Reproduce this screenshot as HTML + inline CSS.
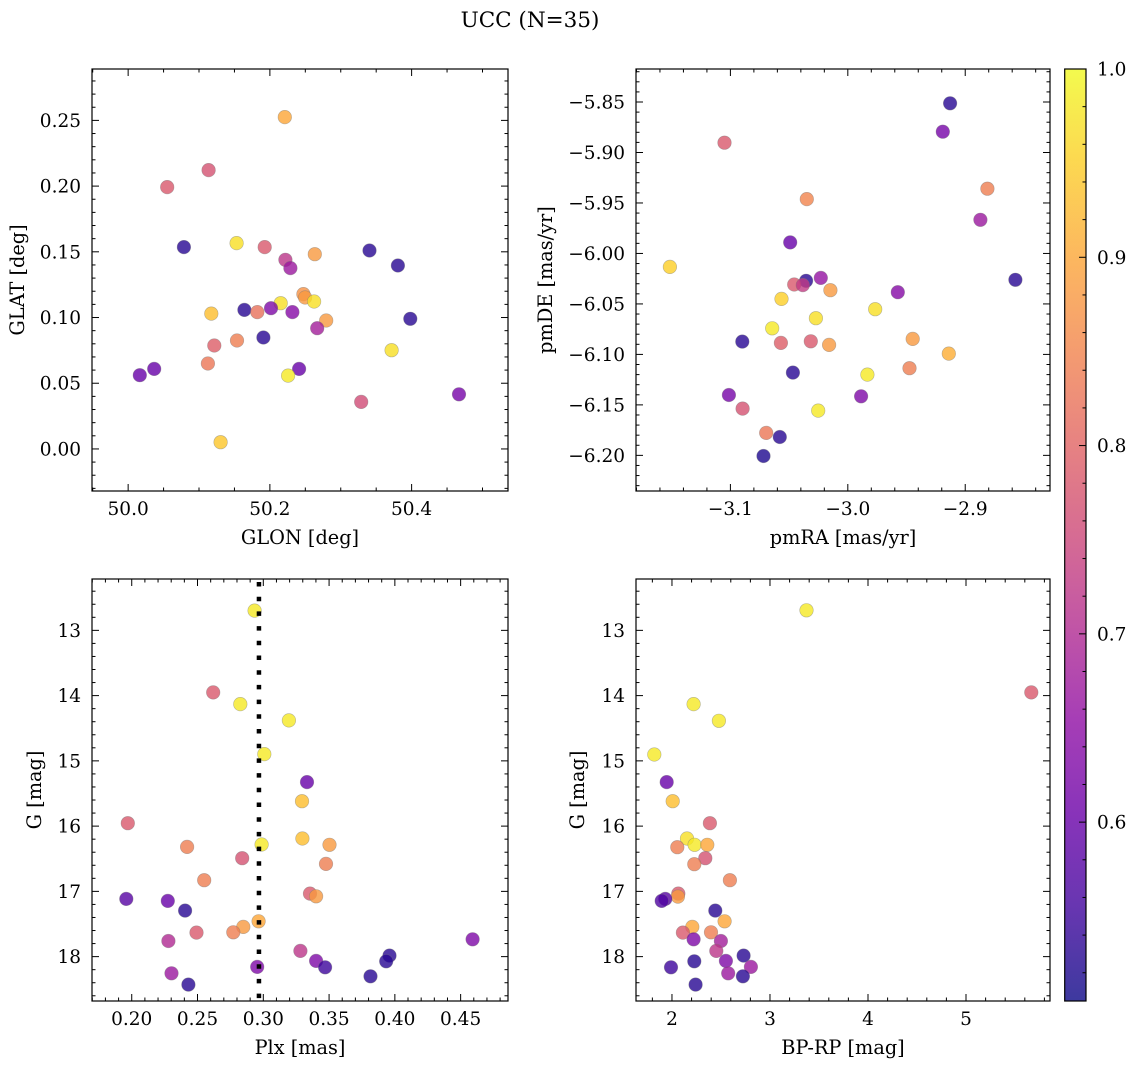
<!DOCTYPE html>
<html><head><meta charset="utf-8">
<style>
html,body{margin:0;padding:0;background:#fff;}
svg{display:block;}
text{font-family:"DejaVu Serif","Liberation Serif",serif;fill:#000;}
</style></head>
<body>
<svg id="fig" width="1136" height="1068" viewBox="0 0 1136 1068" xmlns="http://www.w3.org/2000/svg">
<defs>
<linearGradient id="cbgrad" x1="0" y1="1" x2="0" y2="0"></linearGradient>
</defs>
<text x="530" y="27" font-size="21.5" text-anchor="middle">UCC (N=35)</text>
</svg>
<script>
// ---------- Panel 1 data: GLON vs GLAT ----------
const p1x=[50.221,50.1135,50.0551,50.0787,50.1531,50.1927,50.2634,50.2219,50.229,50.3406,50.3807,50.2473,50.2497,50.2153,50.2624,50.164,50.1823,50.2016,50.2318,50.1173,50.2794,50.3981,50.2667,50.1908,50.1536,50.1216,50.3717,50.1126,50.0367,50.0165,50.2412,50.2257,50.4669,50.3289,50.1305];
const p1y=[0.2525,0.2122,0.1992,0.1536,0.1566,0.1536,0.1482,0.1439,0.1376,0.151,0.1396,0.1178,0.1152,0.1109,0.1122,0.1058,0.1041,0.1071,0.1041,0.103,0.0977,0.099,0.0919,0.0848,0.0825,0.0787,0.0751,0.065,0.0609,0.0561,0.0609,0.0558,0.0416,0.0358,0.0051];
const p1c=[0.9,0.77,0.78,0.53,0.97,0.78,0.88,0.72,0.67,0.53,0.53,0.87,0.88,0.97,0.97,0.53,0.82,0.63,0.64,0.93,0.88,0.53,0.68,0.53,0.84,0.79,0.97,0.83,0.6,0.6,0.6,0.98,0.62,0.76,0.94];
const p1xt=[50.0,50.2,50.4];
const p1xl=["50.0","50.2","50.4"];
const p1yt=[0.00,0.05,0.10,0.15,0.20,0.25];
const p1yl=["0.00","0.05","0.10","0.15","0.20","0.25"];
// ---------- Panel 2 data: pmRA vs pmDE ----------
const p2x=[-2.9129,-2.9191,-3.105,-2.8811,-3.0349,-2.8871,-3.0491,-3.1515,-2.8573,-3.023,-3.0355,-3.0457,-3.0383,-3.0148,-2.9574,-3.0565,-2.9767,-3.0272,-3.0644,-3.0899,-3.057,-3.0315,-3.0159,-2.9447,-2.914,-3.0468,-2.9833,-2.9475,-3.1013,-2.9887,-3.0896,-3.0252,-3.0695,-3.0579,-3.0718];
const p2y=[-5.8513,-5.8794,-5.8903,-5.9359,-5.9462,-5.9667,-5.9891,-6.0133,-6.0261,-6.0242,-6.0271,-6.0308,-6.0314,-6.0364,-6.0384,-6.045,-6.0552,-6.0641,-6.0741,-6.0873,-6.0886,-6.087,-6.0906,-6.0846,-6.0992,-6.118,-6.12,-6.1137,-6.1402,-6.1415,-6.1537,-6.1557,-6.1778,-6.1818,-6.2006];
const p2c=[0.53,0.62,0.78,0.84,0.85,0.67,0.6,0.95,0.53,0.66,0.53,0.78,0.73,0.88,0.64,0.95,0.97,0.97,0.98,0.53,0.79,0.78,0.88,0.88,0.91,0.53,0.98,0.84,0.62,0.63,0.77,0.98,0.83,0.53,0.52];
const p2xt=[-3.1,-3.0,-2.9];
const p2xl=["\u22123.1","\u22123.0","\u22122.9"];
const p2yt=[-5.85,-5.90,-5.95,-6.00,-6.05,-6.10,-6.15,-6.20];
const p2yl=["\u22125.85","\u22125.90","\u22125.95","\u22126.00","\u22126.05","\u22126.10","\u22126.15","\u22126.20"];
// ---------- Panel 3 data: Plx vs G ----------
const p3x=[0.2934,0.2619,0.2825,0.3195,0.3008,0.3332,0.3294,0.197,0.3297,0.2987,0.3503,0.2421,0.284,0.3477,0.2551,0.3355,0.3401,0.1959,0.2274,0.2406,0.2964,0.2848,0.2772,0.2492,0.4591,0.2279,0.3282,0.3959,0.3934,0.3401,0.347,0.2954,0.2302,0.3815,0.2431];
const p3y=[12.698,13.951,14.13,14.38,14.897,15.326,15.618,15.955,16.19,16.282,16.287,16.318,16.492,16.579,16.829,17.034,17.075,17.115,17.146,17.294,17.458,17.545,17.627,17.632,17.734,17.76,17.913,17.985,18.072,18.066,18.164,18.158,18.256,18.302,18.429];
const p3c=[0.98,0.78,0.98,0.98,0.98,0.6,0.93,0.78,0.93,0.98,0.88,0.84,0.77,0.84,0.84,0.78,0.88,0.58,0.6,0.53,0.9,0.88,0.84,0.78,0.63,0.7,0.72,0.53,0.53,0.63,0.55,0.63,0.67,0.53,0.53];
const p3xt=[0.20,0.25,0.30,0.35,0.40,0.45];
const p3xl=["0.20","0.25","0.30","0.35","0.40","0.45"];
const p3yt=[13,14,15,16,17,18];
const p3yl=["13","14","15","16","17","18"];
const p3vline=[0.2967];
// ---------- Panel 4 data: BP-RP vs G ----------
const p4x=[3.373,5.666,2.221,2.479,1.82,1.946,2.007,2.387,2.153,2.231,2.36,2.054,2.34,2.228,2.591,2.065,2.061,1.932,1.895,2.442,2.537,2.207,2.398,2.112,2.221,2.499,2.452,2.731,2.55,2.228,2.805,1.99,2.574,2.724,2.241];
const p4y=[12.693,13.951,14.13,14.386,14.902,15.326,15.618,15.955,16.19,16.287,16.287,16.323,16.492,16.584,16.829,17.034,17.08,17.115,17.146,17.294,17.458,17.545,17.627,17.632,17.734,17.76,17.913,17.985,18.066,18.072,18.158,18.164,18.256,18.302,18.429];
const p4c=[0.98,0.78,0.98,0.98,0.98,0.6,0.93,0.78,0.97,0.98,0.9,0.84,0.77,0.84,0.84,0.78,0.88,0.58,0.57,0.53,0.9,0.9,0.84,0.78,0.63,0.68,0.72,0.53,0.63,0.53,0.67,0.55,0.67,0.53,0.53];
const p4xt=[2,3,4,5];
const p4xl=["2","3","4","5"];
const p4yt=[13,14,15,16,17,18];
const p4yl=["13","14","15","16","17","18"];
// ---------- Colorbar ----------
const cbTicks=[0.6,0.7,0.8,0.9,1.0];
const cbLabels=["0.6","0.7","0.8","0.9","1.0"];
const cbRange=[0.505,1.0];

const NS="http://www.w3.org/2000/svg";
const svg=document.getElementById('fig');
function mk(tag,attrs,parent){const e=document.createElementNS(NS,tag);for(const k in attrs)e.setAttribute(k,attrs[k]);(parent||svg).appendChild(e);return e;}

const plasma=[[13,8,135],[65,4,157],[106,0,168],[143,13,164],[177,42,144],[204,71,120],[225,100,98],[242,132,75],[252,166,54],[252,206,37],[240,249,33]];
function cmap(v){
  let t=(v-cbRange[0])/(cbRange[1]-cbRange[0]);t=Math.max(0,Math.min(1,t));
  const s=t*10,i=Math.min(9,Math.floor(s)),f=s-i;
  const a=plasma[i],b=plasma[i+1];
  return 'rgb('+a.map((c,k)=>Math.round(c+(b[k]-c)*f)).join(',')+')';
}

function panel(name,box,xd,yd,xs,ys,cs,xt,xl,yt,yl,xmin,ymin,xlabel,ylabel,ylabX,invertY){
  const [L,T,R,B]=box;
  const X=v=>L+(v-xd[0])/(xd[1]-xd[0])*(R-L);
  const Y=invertY? (v=>T+(v-yd[0])/(yd[1]-yd[0])*(B-T)) : (v=>B-(v-yd[0])/(yd[1]-yd[0])*(B-T));
  const g=mk('g',{});
  
  
  const pg=mk('g',{},g);
  
  
  for(let i=0;i<xs.length;i++){
    const c=mk('circle',{cx:X(xs[i]).toFixed(1),cy:Y(ys[i]).toFixed(1),r:6.8,fill:cmap(cs[i]),'fill-opacity':0.8,stroke:'#777','stroke-opacity':0.5,'stroke-width':0.6},pg);
    
    
  }
  const tg=mk('g',{stroke:'#000','stroke-width':1},g);
  
  
  const eps=1e-9;
  for(let v=Math.ceil(xd[0]/xmin-eps)*xmin;v<=xd[1]+eps;v+=xmin){
    const px=X(v);const major=xt.some(t=>Math.abs(t-v)<xmin/2);const len=major?7:3.5;
    mk('line',{x1:px,y1:B,x2:px,y2:B-len},tg);mk('line',{x1:px,y1:T,x2:px,y2:T+len},tg);
  }
  for(let v=Math.ceil(yd[0]/ymin-eps)*ymin;v<=yd[1]+eps;v+=ymin){
    const py=Y(v);const major=yt.some(t=>Math.abs(t-v)<ymin/2);const len=major?7:3.5;
    mk('line',{x1:L,y1:py,x2:L+len,y2:py},tg);mk('line',{x1:R,y1:py,x2:R-len,y2:py},tg);
  }
  const fr=mk('rect',{x:L,y:T,width:R-L,height:B-T,fill:'none',stroke:'#000','stroke-width':1.2},g);
  
  
  xt.forEach((v,i)=>{const t=mk('text',{x:X(v),y:B+24,'font-size':18.5,'text-anchor':'middle'},g);t.textContent=xl[i];
    
    });
  yt.forEach((v,i)=>{const t=mk('text',{x:L-11,y:Y(v)+6.5,'font-size':18.5,'text-anchor':'end'},g);t.textContent=yl[i];
    
    });
  const xlab=mk('text',{x:(L+R)/2,y:B+53,'font-size':19.3,'text-anchor':'middle'},g);xlab.textContent=xlabel;
  
  
  const cy=(T+B)/2;
  const ylab=mk('text',{x:ylabX,y:cy,'font-size':19.3,'text-anchor':'middle',transform:'rotate(-90 '+ylabX+' '+cy+')'},g);ylab.textContent=ylabel;
  
  
  return {X,Y,g};
}

panel('glon-glat',[92,69,508,491],[49.949,50.536],[-0.032,0.2891],p1x,p1y,p1c,p1xt,p1xl,p1yt,p1yl,0.05,0.01,'GLON [deg]','GLAT [deg]',24,false);
panel('pm',[636,69,1050,491],[-3.1804,-2.8278],[-6.2353,-5.8173],p2x,p2y,p2c,p2xt,p2xl,p2yt,p2yl,0.02,0.01,'pmRA [mas/yr]','pmDE [mas/yr]',552,false);
const P3=panel('plx-g',[92,579,508,1001],[0.1698,0.486],[12.213,18.68],p3x,p3y,p3c,p3xt,p3xl,p3yt,p3yl,0.01,0.2,'Plx [mas]','G [mag]',41,true);
panel('cmd',[636,579,1050,1001],[1.633,5.857],[12.213,18.68],p4x,p4y,p4c,p4xt,p4xl,p4yt,p4yl,0.2,0.2,'BP-RP [mag]','G [mag]',584,true);

p3vline.forEach(v=>{
  const l=mk('line',{x1:P3.X(v),x2:P3.X(v),y1:582,y2:1000,stroke:'#000','stroke-width':4.5,'stroke-dasharray':'4.5 10.2'});
  
  
});

const grad=document.getElementById('cbgrad');
for(let k=0;k<=20;k++){const v=cbRange[0]+(cbRange[1]-cbRange[0])*k/20;mk('stop',{offset:(k/20),'stop-color':cmap(v),'stop-opacity':0.8},grad);}
const cbL=1064.7,cbR=1086,cbT=69,cbB=1001;
const CY=v=>cbB-(v-cbRange[0])/(cbRange[1]-cbRange[0])*(cbB-cbT);
const cbg=mk('g',{});


mk('rect',{x:cbL,y:cbT,width:cbR-cbL,height:cbB-cbT,fill:'url(#cbgrad)',stroke:'#000','stroke-width':1.2},cbg);
for(let v=0.52;v<=1.0001;v+=0.02){
  const major=cbTicks.some(t=>Math.abs(t-v)<0.005);
  mk('line',{x1:cbR,x2:cbR-(major?7:3.5),y1:CY(v),y2:CY(v),stroke:'#000','stroke-width':1},cbg);
}
cbTicks.forEach((v,i)=>{const t=mk('text',{x:1097,y:CY(v)+6.5,'font-size':18.5},cbg);t.textContent=cbLabels[i];
  
  });
</script>
</body></html>
